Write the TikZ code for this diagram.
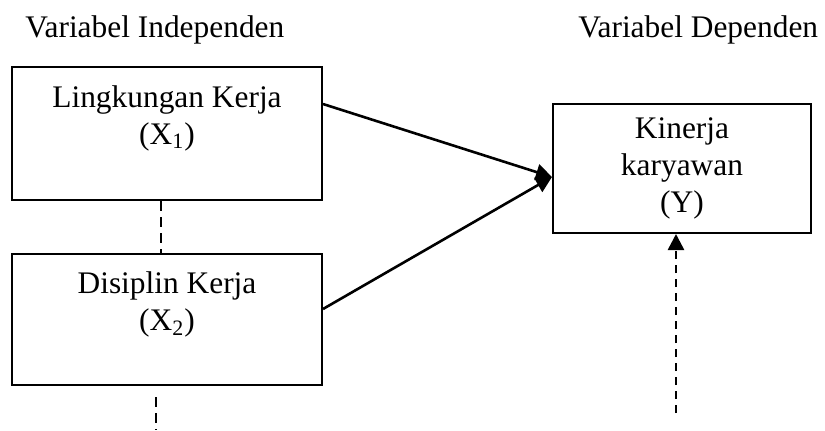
\documentclass[tikz,border=0pt]{standalone}
\usepackage{fontspec}
\setmainfont{Liberation Serif}
\usepackage{tikz}
\usetikzlibrary{positioning,calc}
\usetikzlibrary{arrows.meta}

\begin{document}
\begin{tikzpicture}[
  x = 0.5pt,
  y = -0.5pt,
  every node/.style = {
    font = \fontsize{15.7pt}{18.5pt}\selectfont,
  },
  varbox/.style = {
    draw,
    rectangle,
    line width = 1pt,
    align = center,
    inner sep = 0pt,
  },
  heading/.style = {
    anchor = base west,
    inner sep = 0pt,
  },
  link/.style = {
    line width = 1.3pt,
  },
  dashlink/.style = {
    line width = 1.1pt,
    dash pattern = on 5pt off 3pt,
  },
  >={Triangle[length=8pt,width=8pt]},
]

  \useasboundingbox (0,0) rectangle (825,430);

  % headings
  \node[heading] (hdrindep) at (25,37) {Variabel Independen};
  \node[heading] (hdrdep) at (578,37) {Variabel Dependen};

  % boxes
  \node[varbox, minimum width=155pt, minimum height=66.5pt] (lingkungan) at (167,133.5)
    {Lingkungan Kerja\\(X\textsubscript{1})\\\mbox{}};
  \node[varbox, minimum width=155pt, minimum height=65.5pt] (disiplin) [below=26pt of lingkungan]
    {Disiplin Kerja\\(X\textsubscript{2})\\\mbox{}};
  \node[varbox, minimum width=129pt, minimum height=64.5pt] (kinerja) at (682,168.5)
    {Kinerja\\karyawan\\(Y)};

  % free ends
  \coordinate (kinerjatail) at (676,413);
  \coordinate (disiplintail) at (156,397);
  \coordinate (disiplinend) at (156,430);

  \draw[->,link] ([yshift=14.75pt]lingkungan.east) -- ([yshift=-4.25pt]kinerja.west);
  \draw[->,link] ([yshift=5.25pt]disiplin.east) -- ([yshift=-4.25pt]kinerja.west);
  \draw[dashlink] ([xshift=-3pt]lingkungan.south) -- ([xshift=-3pt]disiplin.north);
  \draw[dashlink] (disiplintail) -- (disiplinend);
  \draw[->,dashlink,line width=1.3pt,dash pattern=on 4pt off 3pt] (kinerjatail) -- ([xshift=-3pt]kinerja.south);

\end{tikzpicture}
\end{document}
